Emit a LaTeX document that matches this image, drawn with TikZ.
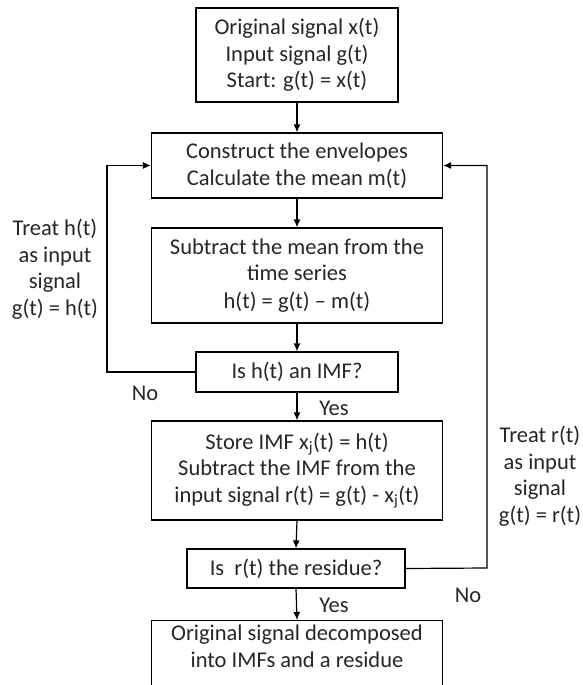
\documentclass[tikz,border=0pt]{standalone}
\usepackage{fontspec}
\setmainfont{Carlito}
\usetikzlibrary{arrows.meta}
\definecolor{txt}{RGB}{38,38,38}
\begin{document}
\begin{tikzpicture}[x=1pt,y=-1pt,
  every node/.style={text=txt,font=\fontsize{22.5}{26.5}\selectfont,align=center,inner sep=0pt},
  box/.style={draw=black,line width=1.2pt,rectangle},
  arr/.style={draw=black,line width=1.2pt,-{Latex[length=8pt,width=7pt]}},
  ln/.style={draw=black,line width=1.2pt}]
\path[use as bounding box,clip] (0,0) rectangle (582,685);
\node[box,minimum width=202,minimum height=94] (b1) at (297,55) {Original signal x(t)\\Input signal g(t)\\Start: g(t) = x(t)};
\node[box,minimum width=291,minimum height=65] (b2) at (297,165.5) {Construct the envelopes\\Calculate the mean m(t)};
\node[box,minimum width=291,minimum height=95] (b3) at (297,275.5) {Subtract the mean from the\\time series\\[1pt]h(t) = g(t) -- m(t)};
\node[box,minimum width=202,minimum height=40] (b4) at (297,372) {Is h(t) an IMF?};
\node[box,minimum width=291,minimum height=99] (b5) at (297,470.5) {Store IMF x\textsubscript{j}(t) = h(t)\\Subtract the IMF from the\\input signal r(t) = g(t) - x\textsubscript{j}(t)};
\node[box,minimum width=218,minimum height=39] (b6) at (296,568.5) {Is\ \ r(t) the residue?};
\node[box,minimum width=291,minimum height=100,anchor=north] (b7) at (297,620) {};
\node[anchor=north] (b7t) at ([yshift=-5pt]b7.north) {Original signal decomposed\\into IMFs and a residue};
\draw[arr] (b1.south) -- (b2.north);
\draw[arr] (b2.south) -- (b3.north);
\draw[arr] (b3.south) -- (b4.north);
\draw[arr] (b4.south) -- (b5.north);
\draw[arr] (b5.south) -- (b6.north);
\draw[arr] (b6.south) -- (b7.north);
\coordinate (lc) at (107,372);
\coordinate (rc) at (487,568);
\draw[arr] (b4.west) -- (lc) |- (b2.west);
\draw[arr] (b6.east) -- (rc) |- (b2.east);
\node (no1) at (145,393) {No};
\node (no2) at (468,595) {No};
\node (yes1) at (334,408) {Yes};
\node (yes2) at (334,605) {Yes};
\node (lt) at (55,269) {Treat h(t)\\as input\\signal\\g(t) = h(t)};
\node (rt) at (540,476) {Treat r(t)\\as input\\signal\\g(t) = r(t)};
\end{tikzpicture}
\end{document}
